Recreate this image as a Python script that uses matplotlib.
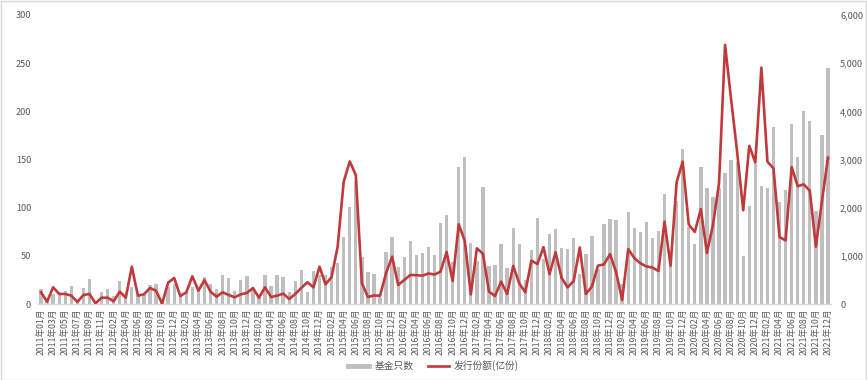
import matplotlib
matplotlib.use("Agg")
import matplotlib.pyplot as plt
from matplotlib.lines import Line2D
from matplotlib.patches import Rectangle
from matplotlib.ticker import FuncFormatter
import numpy as np

plt.rcParams['font.family'] = ['Noto Sans CJK SC', 'DejaVu Sans']

# categories (2012-01 absent in source data)
months = ([f"2011年{m:02d}月" for m in range(1, 13)]
          + [f"2012年{m:02d}月" for m in range(2, 13)]
          + [f"{y}年{m:02d}月" for y in range(2013, 2022) for m in range(1, 13)])

fund_count = [
    16, 3, 10, 12, 13, 19, 5, 17, 26, 2, 12, 16, 8, 24, 8, 18, 8, 9, 20, 21,
    2, 18, 21, 9, 12, 18, 15, 28, 21, 16, 30, 27, 13, 25, 29, 16, 10, 30, 19, 30,
    28, 12, 24, 35, 12, 34, 30, 30, 38, 43, 70, 101, 128, 49, 33, 31, 7, 54, 70, 38,
    49, 65, 51, 53, 59, 51, 84, 92, 44, 142, 153, 63, 45, 121, 39, 40, 62, 37, 79, 62,
    25, 56, 89, 47, 73, 78, 58, 57, 68, 31, 52, 71, 36, 83, 88, 87, 21, 95, 79, 75,
    85, 68, 76, 114, 39, 107, 161, 80, 62, 142, 120, 111, 120, 136, 150, 147, 50, 102, 145, 122,
    120, 184, 106, 118, 187, 153, 200, 190, 97, 175, 245,
]

issue_shares = [
    243, 48, 347, 208, 208, 173, 42, 187, 208, 14, 131, 131, 55, 256, 131, 775, 173, 200, 332, 277,
    10, 443, 540, 166, 243, 575, 277, 498, 256, 152, 243, 187, 139, 201, 229, 332, 131, 347, 145, 173,
    215, 104, 208, 335, 450, 346, 775, 408, 560, 1190, 2540, 2960, 2678, 436, 145, 176, 173, 640, 983, 394,
    498, 602, 598, 588, 633, 612, 671, 1080, 477, 1654, 1310, 198, 1156, 1045, 256, 166, 464, 208, 789, 429,
    242, 900, 830, 1180, 620, 1073, 540, 346, 480, 1173, 208, 360, 796, 823, 1035, 660, 83, 1140, 955, 845,
    780, 758, 685, 1709, 796, 2530, 2955, 1650, 1495, 1972, 1060, 1640, 2505, 5380, 4250, 3150, 1945, 3285, 2938, 4906,
    2955, 2816, 1390, 1320, 2845, 2445, 2484, 2350, 1190, 2130, 3038,
]

left_ticks = [0, 50, 100, 150, 200, 250, 300]
right_ticks = [0, 1000, 2000, 3000, 4000, 5000, 6000]

W, H = 867, 380
fig = plt.figure(figsize=(W / 100, H / 100), dpi=100)
fig.patches.append(Rectangle((0.5 / W, 0.5 / H), 1 - 1.5 / W, 1 - 1.5 / H,
                             transform=fig.transFigure, fill=False,
                             edgecolor='#D9D9D9', lw=1))

ax = fig.add_axes([38 / W, 1 - 304 / H, (831 - 38) / W, (304 - 15) / H])
x = np.arange(len(months))
ax.bar(x, fund_count, width=0.55, color='#BFBFBF', zorder=2)
ax.set_xlim(-0.5, len(months) - 0.5)
ax.set_ylim(0, 300)
ax.set_yticks(left_ticks)
ax.set_xticks(x[::2])
ax.set_xticklabels(months[::2], rotation=90, fontsize=6.3, color='#595959')
ax.tick_params(axis='y', length=0, labelsize=6.6, labelcolor='#595959', pad=5)
ax.tick_params(axis='x', length=0, pad=3)
for s in ['top', 'left', 'right']:
    ax.spines[s].set_visible(False)
ax.spines['bottom'].set_color('#D9D9D9')
ax.spines['bottom'].set_linewidth(1)

ax2 = ax.twinx()
ax2.plot(x, issue_shares, color='#C0393B', lw=1.9, zorder=3)
ax2.set_ylim(0, 6000)
ax2.set_yticks(right_ticks)
ax2.yaxis.set_major_formatter(FuncFormatter(lambda v, p: f"{int(v):,}"))
ax2.tick_params(axis='y', length=0, labelsize=6.6, labelcolor='#595959', pad=6.5)
for s in ax2.spines.values():
    s.set_visible(False)

handles = [Line2D([], [], color='#BFBFBF', lw=3.5),
           Line2D([], [], color='#C0393B', lw=1.9)]
fig.legend(handles, ['基金只数', '发行份额(亿份)'], loc='center',
           bbox_to_anchor=(0.5, 1 - 366 / H), ncol=2, frameon=False,
           fontsize=7, labelcolor='#595959', handlelength=2.2,
           columnspacing=1.5, handletextpad=0.5)

fig.savefig('out.png', dpi=100)
